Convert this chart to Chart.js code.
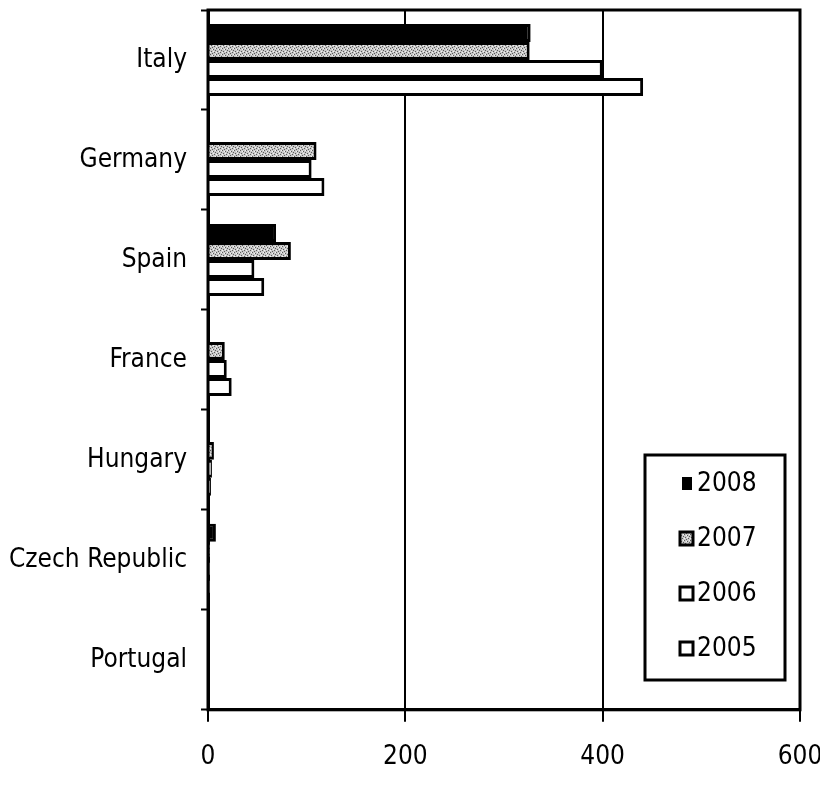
<!DOCTYPE html>
<html>
<head>
<meta charset="utf-8">
<script src="https://cdn.jsdelivr.net/npm/chart.js@4.4.1/dist/chart.umd.min.js"></script>
<style>
  html, body { margin: 0; padding: 0; background: #fff; }
  #wrap { width: 820px; height: 787px; }
</style>
</head>
<body>
<div id="wrap"><canvas id="grafica" width="820" height="787"></canvas></div>
<script>
"use strict";

const paises = ["Italy", "Germany", "Spain", "France", "Hungary", "Czech Republic", "Portugal"];
const anios = ["2008", "2007", "2006", "2005"];
const valores2008 = [327, 0, 69, 0, 0, 8, 1];
const valores2007 = [326, 110, 84, 17, 6, 2, 1];
const valores2006 = [400, 105, 47, 19, 4, 2, 1];
const valores2005 = [441, 118, 57, 24, 3, 2, 1];
const ticksX = [0, 200, 400, 600];

const fuente = '"Liberation Sans Narrow", "DejaVu Sans Condensed", "Arial Narrow", sans-serif';

// patron punteado gris para 2007
function crearPatron() {
    const c = document.createElement("canvas");
    c.width = 6;
    c.height = 6;
    const ctx = c.getContext("2d");
    ctx.fillStyle = "#c8c8c8";
    ctx.fillRect(0, 0, 6, 6);
    ctx.fillStyle = "#5a5a5a";
    [[0, 0], [3, 1], [1, 3], [4, 4], [2, 5], [5, 2]].forEach(([x, y]) => ctx.fillRect(x, y, 1, 1));
    ctx.fillStyle = "#f2f2f2";
    [[2, 1], [5, 0], [0, 4], [3, 3]].forEach(([x, y]) => ctx.fillRect(x, y, 1, 1));
    return ctx.createPattern(c, "repeat");
}
const gris = crearPatron();

const rellenos = ["#000000", gris, "#ffffff", "#ffffff"];
const series = [valores2008, valores2007, valores2006, valores2005];

// borde del area de grafico
const marco = {
    id: "marco",
    afterDraw(chart) {
        const { ctx, chartArea: a } = chart;
        ctx.save();
        ctx.strokeStyle = "#000";
        ctx.lineWidth = 3;
        ctx.strokeRect(a.left, a.top, a.right - a.left, a.bottom - a.top);
        ctx.restore();
    }
};

// leyenda dentro del grafico
const leyenda = {
    id: "leyenda",
    afterDraw(chart) {
        const { ctx, chartArea: a } = chart;
        const x0 = a.right - 155;
        const y0 = a.top + 445;
        ctx.save();
        ctx.fillStyle = "#fff";
        ctx.fillRect(x0, y0, 140, 225);
        ctx.strokeStyle = "#000";
        ctx.lineWidth = 3;
        ctx.strokeRect(x0, y0, 140, 225);
        ctx.font = "26px " + fuente;
        ctx.textBaseline = "middle";
        chart.data.datasets.forEach((ds, i) => {
            const cy = y0 + 28 + i * 55;
            if (i === 0) {
                ctx.fillStyle = "#000";
                ctx.fillRect(x0 + 37, cy - 6, 10, 13);
            } else {
                ctx.fillStyle = ds.backgroundColor;
                ctx.fillRect(x0 + 35, cy - 6, 13, 13);
                ctx.lineWidth = 3;
                ctx.strokeRect(x0 + 35, cy - 6, 13, 13);
            }
            ctx.fillStyle = "#000";
            ctx.fillText(ds.label, x0 + 52, cy + 1);
        });
        ctx.restore();
    }
};

const grafica = new Chart(document.querySelector("#grafica"), {
    type: "bar",
    data: {
        labels: paises,
        datasets: anios.map((anio, i) => ({
            label: anio,
            data: series[i],
            backgroundColor: rellenos[i],
            borderColor: "#000",
            borderWidth: 3,
            borderSkipped: "start",
            barPercentage: 1,
            categoryPercentage: 0.72,
        })),
    },
    options: {
        indexAxis: "y",
        responsive: false,
        animation: false,
        layout: { padding: { top: 10, right: 20, left: 4, bottom: -6 } },
        plugins: {
            legend: { display: false },
            tooltip: { enabled: false },
        },
        scales: {
            x: {
                min: 0,
                max: 600,
                afterBuildTicks: (scale) => {
                    scale.ticks = ticksX.map((v) => ({ value: v }));
                },
                afterFit: (scale) => {
                    scale.paddingLeft = 0;
                    scale.paddingRight = 0;
                },
                grid: {
                    color: "#000",
                    lineWidth: 2,
                    tickLength: 12,
                    tickColor: "#000",
                    tickWidth: 2,
                },
                border: { color: "#000", width: 3 },
                ticks: {
                    color: "#000",
                    padding: 20,
                    maxRotation: 0,
                    font: { family: fuente, size: 26 },
                },
            },
            y: {
                afterFit: (scale) => {
                    scale.width = 204;
                    scale.paddingTop = 0;
                    scale.paddingBottom = 0;
                },
                grid: {
                    drawOnChartArea: false,
                    tickLength: 7,
                    tickColor: "#000",
                    tickWidth: 2,
                },
                border: { color: "#000", width: 3 },
                ticks: {
                    color: "#000",
                    padding: 14,
                    font: { family: fuente, size: 26 },
                },
            },
        },
    },
    plugins: [marco, leyenda],
});
</script>
</body>
</html>
